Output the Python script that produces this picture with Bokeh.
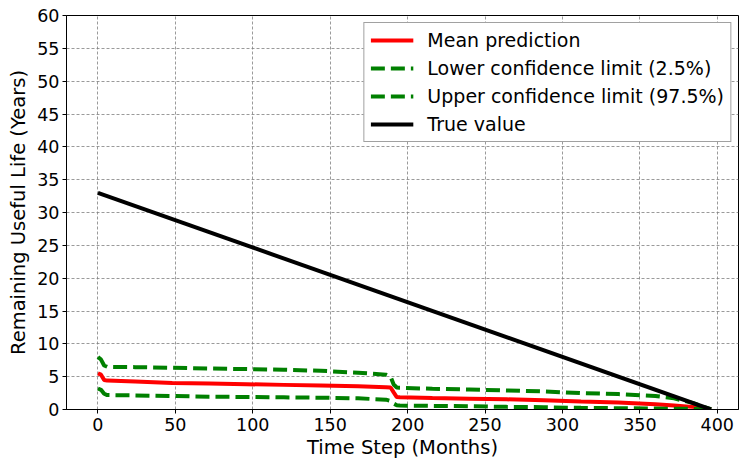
from bokeh.plotting import figure
from bokeh.models import Range1d, FixedTicker, Legend, LegendItem
from bokeh.embed import file_html
from bokeh.resources import INLINE

# Time axis (months) shared by the prediction series
months = [0, 2, 4, 6, 24, 48, 72, 96, 120, 144, 168, 186, 189, 191, 193, 195,
          216, 240, 264, 288, 312, 336, 360, 372, 384, 390, 396]

mean_pred = [5.5, 5.3, 4.5, 4.4, 4.25, 4.05, 3.95, 3.85, 3.75, 3.65, 3.55, 3.4,
             3.35, 2.6, 1.9, 1.85, 1.75, 1.65, 1.55, 1.4, 1.2, 1.05, 0.8, 0.6,
             0.4, 0.25, 0.05]

lower_ci = [3.2, 3.0, 2.4, 2.2, 2.15, 2.05, 1.95, 1.9, 1.85, 1.8, 1.7, 1.5,
            1.3, 0.9, 0.65, 0.6, 0.55, 0.5, 0.4, 0.35, 0.25, 0.2, 0.15, 0.1,
            0.1, 0.05, 0.0]

upper_ci = [8.0, 7.6, 6.7, 6.5, 6.45, 6.35, 6.25, 6.15, 6.05, 5.9, 5.6, 5.3,
            5.0, 3.8, 3.35, 3.3, 3.15, 3.05, 2.9, 2.75, 2.5, 2.35, 2.05, 1.7,
            1.0, 0.5, 0.05]

# Ground truth remaining life
true_months = [0, 396]
true_values = [33, 0]

x_ticks = [0, 50, 100, 150, 200, 250, 300, 350, 400]
y_ticks = [0, 5, 10, 15, 20, 25, 30, 35, 40, 45, 50, 55, 60]

FONT = "DejaVu Sans"

p = figure(width=739, height=461, output_backend="svg", toolbar_location=None,
           x_range=Range1d(-20.3, 413.7), y_range=Range1d(0, 60),
           min_border_left=66, min_border_right=1, min_border_top=15,
           min_border_bottom=51)

p.outline_line_color = "black"
p.outline_line_width = 1

for ax in (p.xaxis[0], p.yaxis[0]):
    ax.major_label_text_font = FONT
    ax.major_label_text_font_size = "17.5px"
    ax.major_label_text_color = "black"
    ax.axis_label_text_font = FONT
    ax.axis_label_text_font_size = "19.5px"
    ax.axis_label_text_font_style = "normal"
    ax.axis_label_text_color = "black"
    ax.major_tick_in = 0
    ax.major_tick_out = 4
    ax.minor_tick_line_color = None
    ax.axis_line_color = "black"

p.xaxis.ticker = FixedTicker(ticks=x_ticks)
p.yaxis.ticker = FixedTicker(ticks=y_ticks)
p.xaxis.axis_label = "Time Step (Months)"
p.yaxis.axis_label = "Remaining Useful Life (Years)"
p.xaxis.major_label_standoff = 4
p.xaxis.axis_label_standoff = 2
p.yaxis.major_label_standoff = 3
p.yaxis.axis_label_standoff = 4

for g in (p.xgrid[0], p.ygrid[0]):
    g.grid_line_color = "#808080"
    g.grid_line_dash = "3 2"
    g.grid_line_width = 0.8

r_mean = p.line(months, mean_pred, line_color="#ff0000", line_width=4)
r_low = p.line(months, lower_ci, line_color="#008000", line_width=4,
               line_dash="14 6")
r_up = p.line(months, upper_ci, line_color="#008000", line_width=4,
              line_dash="14 6")
r_true = p.line(true_months, true_values, line_color="black", line_width=4)

legend = Legend(items=[
    LegendItem(label="Mean prediction", renderers=[r_mean]),
    LegendItem(label="Lower confidence limit (2.5%)", renderers=[r_low]),
    LegendItem(label="Upper confidence limit (97.5%)", renderers=[r_up]),
    LegendItem(label="True value", renderers=[r_true]),
], location="top_right")
legend.label_text_font = FONT
legend.label_text_font_size = "19px"
legend.label_text_color = "black"
legend.glyph_width = 43
legend.glyph_height = 22
legend.label_height = 22
legend.label_standoff = 14
legend.spacing = 6
legend.padding = 6
legend.margin = 7
legend.border_line_color = "#444444"
legend.border_line_width = 1
legend.background_fill_alpha = 1.0
p.add_layout(legend)

open("out.html", "w").write(file_html(p, INLINE))
